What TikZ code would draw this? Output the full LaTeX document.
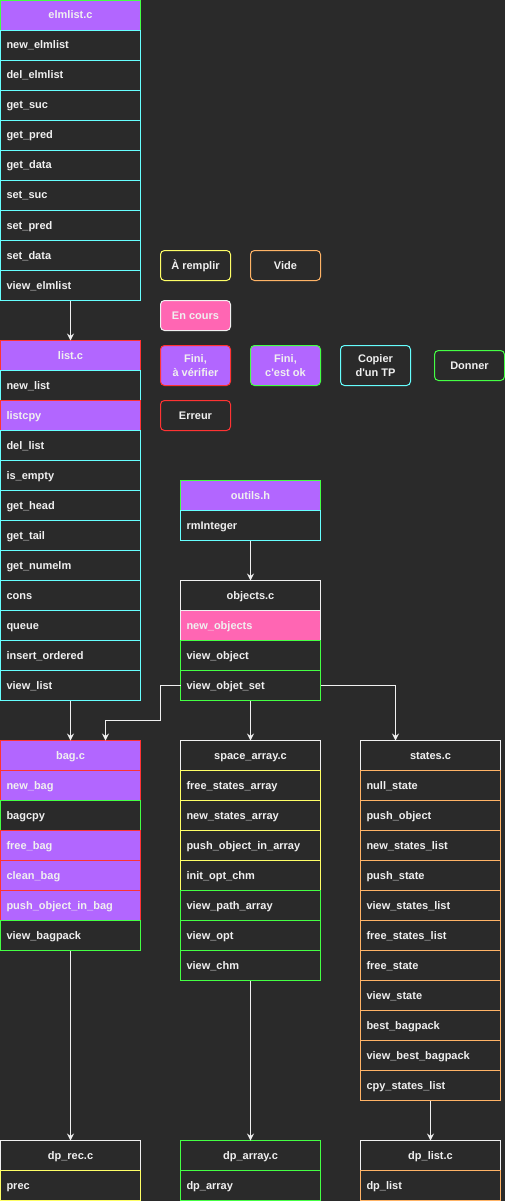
\documentclass[tikz,border=0pt]{standalone}
\usepackage{fontspec}
\setmainfont{Liberation Sans}
\usetikzlibrary{arrows.meta}
\definecolor{bg}{HTML}{2A2A2A}
\definecolor{txt}{HTML}{F0F0F0}
\definecolor{purp}{HTML}{B266FF}
\definecolor{pinkf}{HTML}{FF66B3}
\definecolor{cyanb}{HTML}{66FFFF}
\definecolor{greenb}{HTML}{44FF44}
\definecolor{redb}{HTML}{FF3333}
\definecolor{yellowb}{HTML}{FFFF66}
\definecolor{orangeb}{HTML}{FFB366}
\definecolor{whiteb}{HTML}{F0F0F0}
\begin{document}
\begin{tikzpicture}[x=1pt,y=-1pt,
  font=\fontsize{11}{14}\selectfont\bfseries,
  cell/.style={draw, line width=1pt, minimum width=140pt, minimum height=30pt,
    inner sep=0pt, outer sep=0pt, anchor=north west, text=txt, fill=bg,
    text height=9pt, text depth=2pt},
  hdr/.style={cell, align=center},
  row/.style={cell, text width=128pt, align=left, inner xsep=6pt},
  cy/.style={draw=cyanb},
  gr/.style={draw=greenb},
  ye/.style={draw=yellowb},
  og/.style={draw=orangeb},
  wh/.style={draw=whiteb},
  rd/.style={fill=purp, draw=redb},
  pk/.style={fill=pinkf, draw=whiteb},
  leg/.style={draw, line width=1pt, rounded corners=4pt, minimum width=70pt,
    minimum height=30pt, inner sep=0pt, outer sep=0pt, anchor=north west,
    text=txt, fill=bg, align=center},
  conn/.style={draw=whiteb, line width=1pt,
    -{Stealth[length=7pt, width=7pt, inset=2.5pt]}}
]
\fill[bg] (0,0) rectangle (505,1201);
\useasboundingbox (0,0) rectangle (505,1201);

% elmlist.c
\node[hdr, fill=purp, draw=greenb] (elm) at (0.5,0.5) {elmlist.c};
\foreach \t [count=\i] in {new\_elmlist, del\_elmlist, get\_suc, get\_pred,
    get\_data, set\_suc, set\_pred, set\_data, view\_elmlist}
  \node[row, cy] (elm\i) at (0.5,0.5+30*\i) {\t};

% list.c
\node[hdr, fill=purp, draw=redb] (lst) at (0.5,340.5) {list.c};
\foreach \t/\s [count=\i] in {new\_list/cy, listcpy/rd, del\_list/cy,
    is\_empty/cy, get\_head/cy, get\_tail/cy, get\_numelm/cy, cons/cy,
    queue/cy, insert\_ordered/cy, view\_list/cy}
  \node[row, \s] (lst\i) at (0.5,340.5+30*\i) {\t};

% legend
\node[leg, draw=yellowb] (lgA) at (160.5,250.5) {À remplir};
\node[leg, draw=orangeb] (lgB) at (250.5,250.5) {Vide};
\node[leg, draw=whiteb, fill=pinkf] (lgC) at (160.5,300.5) {En cours};
\node[leg, draw=redb, fill=purp, minimum height=40pt] (lgD) at (160.5,345.5) {Fini,\\à vérifier};
\node[leg, draw=greenb, fill=purp, minimum height=40pt] (lgE) at (250.5,345.5) {Fini,\\c\textquotesingle est ok};
\node[leg, draw=cyanb, minimum height=40pt] (lgF) at (340.5,345.5) {Copier\\d\textquotesingle un TP};
\node[leg, draw=greenb] (lgG) at (434.5,350.5) {Donner};
\node[leg, draw=redb] (lgH) at (160.5,400.5) {Erreur};

% outils.h
\node[hdr, fill=purp, draw=greenb] (out) at (180.5,480.5) {outils.h};
\node[row, cy] (out1) at (180.5,510.5) {rmInteger};

% objects.c
\node[hdr, wh] (obj) at (180.5,580.5) {objects.c};
\foreach \t/\s [count=\i] in {new\_objects/pk, view\_object/gr, view\_objet\_set/gr}
  \node[row, \s] (obj\i) at (180.5,580.5+30*\i) {\t};

% bag.c
\node[hdr, fill=purp, draw=redb] (bag) at (0.5,740.5) {bag.c};
\foreach \t/\s [count=\i] in {new\_bag/rd, bagcpy/gr, free\_bag/rd, clean\_bag/rd,
    push\_object\_in\_bag/rd, view\_bagpack/gr}
  \node[row, \s] (bag\i) at (0.5,740.5+30*\i) {\t};

% space_array.c
\node[hdr, wh] (spc) at (180.5,740.5) {space\_array.c};
\foreach \t/\s [count=\i] in {free\_states\_array/ye, new\_states\_array/ye,
    push\_object\_in\_array/ye, init\_opt\_chm/ye, view\_path\_array/gr,
    view\_opt/gr, view\_chm/gr}
  \node[row, \s] (spc\i) at (180.5,740.5+30*\i) {\t};

% states.c
\node[hdr, wh] (sts) at (360.5,740.5) {states.c};
\foreach \t [count=\i] in {null\_state, push\_object, new\_states\_list, push\_state,
    view\_states\_list, free\_states\_list, free\_state, view\_state, best\_bagpack,
    view\_best\_bagpack, cpy\_states\_list}
  \node[row, og] (sts\i) at (360.5,740.5+30*\i) {\t};

% dp_*.c
\node[hdr, wh] (dpr) at (0.5,1140.5) {dp\_rec.c};
\node[row, ye] (dpr1) at (0.5,1170.5) {prec};
\node[hdr, gr] (dpa) at (180.5,1140.5) {dp\_array.c};
\node[row, gr] (dpa1) at (180.5,1170.5) {dp\_array};
\node[hdr, wh] (dpl) at (360.5,1140.5) {dp\_list.c};
\node[row, og] (dpl1) at (360.5,1170.5) {dp\_list};

% dependencies
\draw[conn] (elm9.south) -- (lst.north);
\draw[conn] (lst11.south) -- (bag.north);
\draw[conn] (out1.south) -- (obj.north);
\draw[conn] (obj3.west) -| (160.5,720.5) -| ([xshift=35pt]bag.north);
\draw[conn] (obj3.south) -- (spc.north);
\draw[conn] (obj3.east) -| ([xshift=-35pt]sts.north);
\draw[conn] (bag6.south) -- (dpr.north);
\draw[conn] (spc7.south) -- (dpa.north);
\draw[conn] (sts11.south) -- (dpl.north);
\end{tikzpicture}
\end{document}
